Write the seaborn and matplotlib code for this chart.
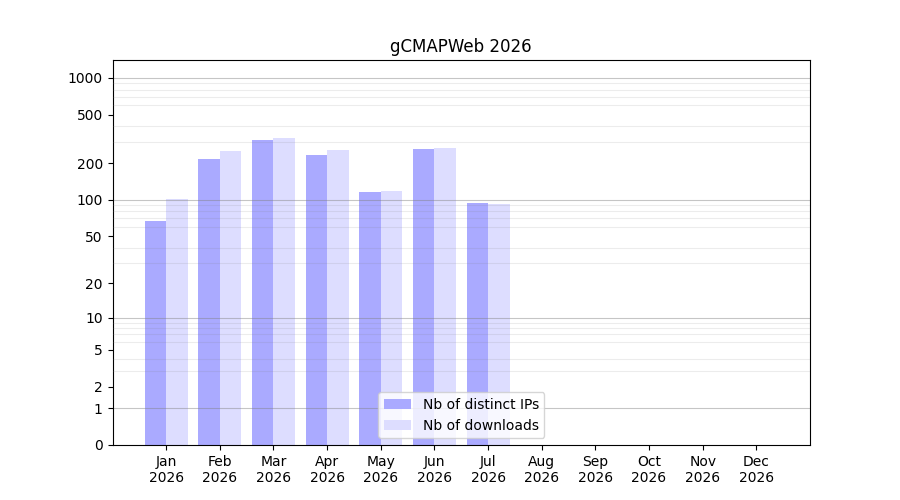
import numpy as np
import pandas as pd
import matplotlib
matplotlib.use('Agg')
import matplotlib.pyplot as plt
import seaborn as sns

# monthly counts
months = ['Jan', 'Feb', 'Mar', 'Apr', 'May', 'Jun', 'Jul', 'Aug', 'Sep', 'Oct', 'Nov', 'Dec']
year = '2026'
distinct_ips = [67, 217, 312, 235, 115, 263, 94, 0, 0, 0, 0, 0]
downloads = [102, 253, 324, 258, 119, 264, 93, 0, 0, 0, 0, 0]
series_names = ['Nb of distinct IPs', 'Nb of downloads']
y_ticks = [0, 1, 2, 5, 10, 20, 50, 100, 200, 500, 1000]

df = pd.DataFrame({
    'month': months * 2,
    'value': distinct_ips + downloads,
    'series': [series_names[0]] * len(months) + [series_names[1]] * len(months),
})

fig, ax = plt.subplots(figsize=(9, 5), dpi=100)
sns.barplot(data=df, x='month', y='value', hue='series',
            palette=['#aaaaff', '#ddddff'], width=0.8, saturation=1,
            ax=ax, legend=True)

# log(x+1) scale so that zero shows up
ax.set_yscale('function', functions=(lambda v: np.log10(np.maximum(v, 0) + 1),
                                     lambda t: 10 ** t - 1))
ax.set_ylim(0, 1400)
ax.set_yticks(y_ticks)
ax.set_yticklabels([str(t) for t in y_ticks])
minor = [m * 10 ** k for k in range(0, 4) for m in range(2, 10) if m * 10 ** k < 1400]
ax.set_yticks(minor, minor=True)
ax.yaxis.set_tick_params(which='minor', size=0, width=0)
ax.set_axisbelow(False)
ax.grid(axis='y', which='minor', color='grey', alpha=0.15, linewidth=0.8)
for d in [1, 10, 100, 1000]:
    ax.axhline(d, color='grey', alpha=0.45, linewidth=0.8)

ax.set_xlim(-1, 12)
ax.set_xticks(range(len(months)))
ax.set_xticklabels([m + '\n' + year for m in months])
ax.set_xlabel('')
ax.set_ylabel('')
ax.set_title('gCMAPWeb ' + year)
ax.legend(loc='lower center')

plt.savefig('out.png', dpi=100)
